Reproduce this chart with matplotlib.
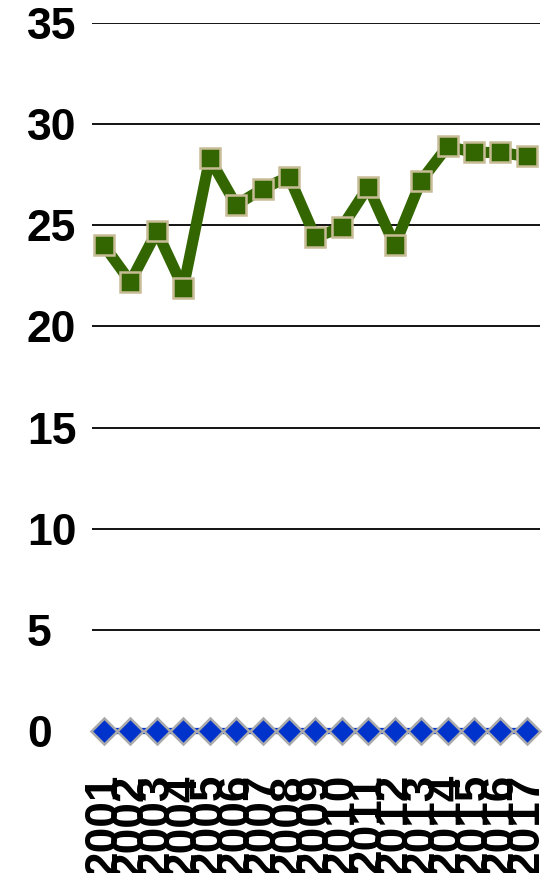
import matplotlib
matplotlib.use('Agg')
import matplotlib.pyplot as plt
import numpy as np

plt.rcParams['font.family'] = ['Liberation Sans', 'DejaVu Sans']

years = [str(y) for y in range(2001, 2018)]
green_vals = [24.0, 22.2, 24.7, 21.9, 28.3, 26.0, 26.8, 27.4, 24.4, 24.9,
              26.9, 24.0, 27.2, 28.9, 28.6, 28.6, 28.4]
blue_vals = [0] * 17
yticks = [0, 5, 10, 15, 20, 25, 30, 35]

fig = plt.figure(figsize=(5.55, 8.73), dpi=100)
ax = fig.add_axes([0.166, 0.1627, 0.807, 0.811])

pos = np.arange(len(years))
ax.plot(pos, green_vals, color='#336600', lw=8, marker='s', ms=14.5,
        mfc='#336600', mec='#c8bc96', mew=1.8, zorder=3)
ax.plot(pos, blue_vals, color='#0033cc', lw=4.5, marker='D', ms=13.5,
        mfc='#0033cc', mec='#aaaaaa', mew=1.8, zorder=3, clip_on=False)

ax.set_ylim(0, 35)
ax.set_xlim(-0.45, 16.5)
ax.set_yticks(yticks)
ax.set_xticks(pos)
ax.set_xticklabels(years, rotation=90, va='top', ha='center',
                   fontsize=33, fontweight='bold')
ax.set_yticklabels([str(t) for t in yticks], fontsize=32, fontweight='bold',
                   ha='left')
ax.tick_params(axis='y', length=0, pad=47)
ax.tick_params(axis='x', length=0, pad=31)
ax.grid(axis='y', color='black', lw=1.3)
ax.set_axisbelow(True)
for s in ax.spines.values():
    s.set_visible(False)

fig.savefig('out.png', dpi=100)
